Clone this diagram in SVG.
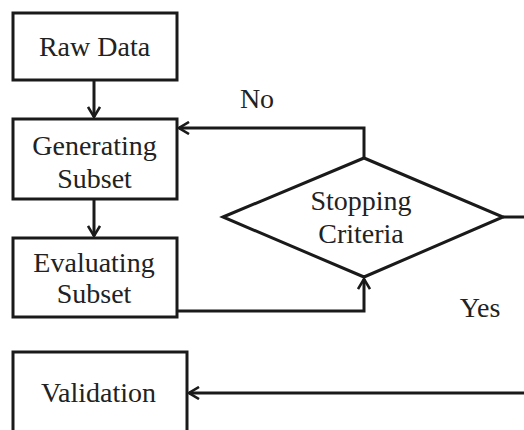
<svg xmlns="http://www.w3.org/2000/svg" width="524" height="430" viewBox="0 0 524 430">
<style>
.box{fill:#fff;stroke:#1a1a1a;stroke-width:3}
.ln{fill:none;stroke:#1a1a1a;stroke-width:3}
text{font-family:'Liberation Serif',serif;font-size:28px;fill:#222;text-anchor:middle}
</style>
<defs>
<marker id="ah" viewBox="0 0 12 14" refX="11" refY="7" markerWidth="12" markerHeight="14" markerUnits="userSpaceOnUse" orient="auto">
<path d="M1,1 L11,7 L1,13" fill="none" stroke="#1a1a1a" stroke-width="2.6"/>
</marker>
</defs>
<g id="connectors">
<line class="ln" x1="94" y1="80" x2="94" y2="117" marker-end="url(#ah)"/>
<line class="ln" x1="94" y1="199" x2="94" y2="236" marker-end="url(#ah)"/>
<polyline class="ln" points="364,158 364,128 179,128" marker-end="url(#ah)"/>
<polyline class="ln" points="177,311 364,311 364,279" marker-end="url(#ah)"/>
<line class="ln" x1="503" y1="217" x2="524" y2="217"/>
<line class="ln" x1="524" y1="393" x2="189" y2="393" marker-end="url(#ah)"/>
<text font-family="Liberation Serif, serif" x="257" y="108" font-size="27">No</text>
<text font-family="Liberation Serif, serif" x="480" y="317" font-size="31">Yes</text>
</g>
<g id="raw">
<rect class="box" x="13" y="13" width="164" height="67"/>
<text font-family="Liberation Serif, serif" x="94.5" y="56">Raw Data</text>
</g>
<g id="gen">
<rect class="box" x="13" y="119" width="164" height="80"/>
<text font-family="Liberation Serif, serif" x="94.5" y="155">Generating</text>
<text font-family="Liberation Serif, serif" x="94.5" y="188">Subset</text>
</g>
<g id="eval">
<rect class="box" x="13" y="238" width="164" height="79"/>
<text font-family="Liberation Serif, serif" x="94" y="272">Evaluating</text>
<text font-family="Liberation Serif, serif" x="94" y="303">Subset</text>
</g>
<g id="stop">
<polygon class="box" points="223,217 364,158 503,217 364,277"/>
<text font-family="Liberation Serif, serif" x="361" y="210">Stopping</text>
<text font-family="Liberation Serif, serif" x="361" y="243">Criteria</text>
</g>
<g id="val">
<rect class="box" x="13" y="352" width="174" height="90"/>
<text font-family="Liberation Serif, serif" x="98.5" y="402">Validation</text>
</g>
</svg>
